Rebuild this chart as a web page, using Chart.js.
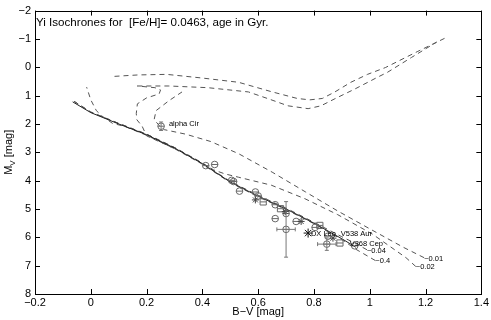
<!DOCTYPE html>
<html>
<head>
<meta charset="utf-8">
<script src="https://cdn.jsdelivr.net/npm/chart.js@4.4.0/dist/chart.umd.min.js"></script>
<style>
  body { margin: 0; background: #fff; }
  #wrap { width: 491px; height: 320px; }
</style>
</head>
<body>
<div id="wrap"><canvas id="myChart" width="491" height="320"></canvas></div>
<script>
// tick values
const xTicks = [-0.2, 0, 0.2, 0.4, 0.6, 0.8, 1, 1.2, 1.4];
const yTicks = [-2, -1, 0, 1, 2, 3, 4, 5, 6, 7, 8];

// main sequence (solid line)
const msX = [-0.065, 0.0, 0.1, 0.2, 0.3, 0.4, 0.5, 0.6, 0.7, 0.8, 0.9, 0.95];
const msY = [1.22, 1.6, 2.0, 2.38, 2.85, 3.4, 4.05, 4.55, 5.0, 5.5, 6.05, 6.35];

// isochrones (B-V, Mv)
const iso04X = [1.02, 0.95, 0.9, 0.8, 0.7, 0.6, 0.5, 0.4, 0.3, 0.2, 0.12, 0.078, 0.04, 0.02, 0.0, -0.015];
const iso04Y = [6.82, 6.42, 6.08, 5.52, 5.02, 4.57, 4.07, 3.42, 2.87, 2.4, 2.08, 1.98, 1.72, 1.53, 1.15, 0.70];
const iso004X = [0.99, 0.95, 0.9, 0.8, 0.7, 0.6, 0.5, 0.4, 0.3, 0.2, 0.1, 0.0, -0.06];
const iso004Y = [6.44, 6.22, 5.98, 5.47, 4.97, 4.52, 4.03, 3.38, 2.83, 2.36, 1.98, 1.58, 1.2];
const iso002X = [1.165, 1.13, 1.01, 0.885, 0.768, 0.647, 0.53, 0.48, 0.44, 0.4, 0.3, 0.2, 0.1, 0.0, -0.06];
const iso002Y = [7.03, 6.72, 5.89, 5.2, 4.64, 4.16, 3.88, 3.76, 3.62, 3.38, 2.83, 2.36, 1.98, 1.58, 1.2];
const iso001X = [1.195, 1.12, 1.0, 0.885, 0.77, 0.65, 0.53, 0.43, 0.34, 0.263, 0.245, 0.227, 0.234, 0.28, 0.327];
const iso001Y = [6.72, 6.35, 5.7, 5.07, 4.4, 3.7, 3.05, 2.62, 2.36, 2.2, 2.05, 1.85, 1.53, 1.18, 0.87];
const turnBX = [0.3, 0.2, 0.184, 0.165, 0.163, 0.167, 0.2, 0.245, 0.25, 0.23, 0.167];
const turnBY = [2.87, 2.42, 2.08, 1.85, 1.63, 1.29, 1.08, 0.94, 0.80, 0.72, 0.66];
const giantAX = [0.085, 0.17, 0.272, 0.4, 0.53, 0.647, 0.74, 0.785, 0.83, 0.875, 0.932, 0.992, 1.056, 1.17, 1.27];
const giantAY = [0.32, 0.27, 0.25, 0.38, 0.53, 0.86, 1.1, 1.15, 1.1, 0.87, 0.53, 0.25, 0.01, -0.55, -1.03];
const giantBX = [0.167, 0.28, 0.42, 0.565, 0.636, 0.707, 0.779, 0.825, 0.875, 0.946, 1.028, 1.063, 1.15, 1.24];
const giantBY = [0.66, 0.66, 0.72, 0.87, 1.11, 1.36, 1.46, 1.36, 1.11, 0.77, 0.35, 0.18, -0.35, -0.89];

// observed stars
const circX = [0.252, 0.412, 0.444, 0.505, 0.512, 0.533, 0.59, 0.60, 0.661, 0.661, 0.70, 0.70, 0.736, 0.804, 0.85, 0.846, 0.946];
const circY = [2.08, 3.47, 3.43, 3.99, 4.03, 4.37, 4.40, 4.54, 4.85, 5.34, 5.16, 5.72, 5.44, 5.65, 5.96, 6.24, 6.30];
const sqX = [0.618, 0.68, 0.821, 0.893];
const sqY = [4.75, 4.99, 5.58, 6.2];
const starX = [0.59, 0.697, 0.754, 0.868];
const starY = [4.68, 5.09, 5.44, 6.03];
const dxLeoX = [0.779];
const dxLeoY = [5.85];

// error bars
const errX = [0.252, 0.70, 0.846];
const errY = [2.08, 5.72, 6.24];
const errDx = [0, 0.033, 0.033];
const errDy = [0.15, 0.98, 0.22];

// labels
const isoNames = ['~0.04', '~0.4', '~0.01', '~0.02'];
const isoNameX = [0.99, 1.02, 1.195, 1.165];
const isoNameY = [6.47, 6.84, 6.75, 7.05];
const starNames = ['alpha Cir', 'DX Leo', 'V538 Aur', 'V368 Cep'];
const starNameX = [0.28, 0.789, 0.896, 0.928];
const starNameY = [2.0, 5.89, 5.89, 6.23];

const titleText = 'Yi Isochrones for  [Fe/H]= 0.0463, age in Gyr.';
const FONT = '"Liberation Sans", Arial, Helvetica, sans-serif';

function pts(xs, ys) {
  return xs.map((x, i) => ({ x: x, y: ys[i] }));
}

function dashed(xs, ys) {
  return {
    data: pts(xs, ys), showLine: true, borderColor: '#555', borderWidth: 1,
    borderDash: [5, 4], pointRadius: 0, fill: false
  };
}

function marks(xs, ys, style, r, color) {
  return {
    data: pts(xs, ys), showLine: false, pointStyle: style, pointRadius: r,
    borderColor: color, backgroundColor: 'rgba(0,0,0,0)', pointBorderWidth: 1
  };
}

function fmt(v) {
  return String(Math.round(v * 10) / 10).replace('-', '\u2212');
}

const frame = {
  id: 'frame',
  afterDatasetsDraw(chart) {
    const c = chart.ctx, a = chart.chartArea, sx = chart.scales.x, sy = chart.scales.y;
    c.save();

    // error bars
    c.strokeStyle = '#777';
    c.lineWidth = 1;
    for (let i = 0; i < errX.length; i++) {
      const px = sx.getPixelForValue(errX[i]), py = sy.getPixelForValue(errY[i]);
      c.beginPath();
      if (errDy[i] > 0) {
        const y1 = sy.getPixelForValue(errY[i] - errDy[i]), y2 = sy.getPixelForValue(errY[i] + errDy[i]);
        c.moveTo(px, y1); c.lineTo(px, y2);
        c.moveTo(px - 2, y1); c.lineTo(px + 2, y1);
        c.moveTo(px - 2, y2); c.lineTo(px + 2, y2);
      }
      if (errDx[i] > 0) {
        const x1 = sx.getPixelForValue(errX[i] - errDx[i]), x2 = sx.getPixelForValue(errX[i] + errDx[i]);
        c.moveTo(x1, py); c.lineTo(x2, py);
        c.moveTo(x1, py - 2); c.lineTo(x1, py + 2);
        c.moveTo(x2, py - 2); c.lineTo(x2, py + 2);
      }
      c.stroke();
    }

    // box and inward ticks
    c.strokeStyle = '#000';
    c.lineWidth = 1;
    c.strokeRect(Math.round(a.left) + 0.5, Math.round(a.top) + 0.5, Math.round(a.right - a.left), Math.round(a.bottom - a.top));
    c.beginPath();
    xTicks.forEach(v => {
      const px = Math.round(sx.getPixelForValue(v)) + 0.5;
      c.moveTo(px, a.bottom); c.lineTo(px, a.bottom - 5);
      c.moveTo(px, a.top); c.lineTo(px, a.top + 5);
    });
    yTicks.forEach(v => {
      const py = Math.round(sy.getPixelForValue(v)) + 0.5;
      c.moveTo(a.left, py); c.lineTo(a.left + 5, py);
      c.moveTo(a.right, py); c.lineTo(a.right - 5, py);
    });
    c.stroke();

    // title inside the plot
    c.fillStyle = '#000';
    c.font = '11.6px ' + FONT;
    c.textAlign = 'left';
    c.textBaseline = 'alphabetic';
    c.fillText(titleText, a.left + 1, a.top + 15);

    // isochrone + star labels
    c.font = '7.5px ' + FONT;
    c.textBaseline = 'middle';
    for (let i = 0; i < isoNames.length; i++) {
      c.fillText(isoNames[i], sx.getPixelForValue(isoNameX[i]), sy.getPixelForValue(isoNameY[i]));
    }
    for (let i = 0; i < starNames.length; i++) {
      c.fillText(starNames[i], sx.getPixelForValue(starNameX[i]), sy.getPixelForValue(starNameY[i]));
    }

    // axis titles
    c.font = '11px ' + FONT;
    c.textAlign = 'center';
    c.fillText('B\u2212V [mag]', (a.left + a.right) / 2, 312);

    c.translate(12, (a.top + a.bottom) / 2);
    c.rotate(-Math.PI / 2);
    c.textAlign = 'left';
    c.textBaseline = 'alphabetic';
    const wM = c.measureText('M').width;
    const wRest = c.measureText(' [mag]').width;
    c.font = '8px ' + FONT;
    const wV = c.measureText('V').width;
    const x0 = -(wM + wV + wRest) / 2;
    c.font = '11px ' + FONT;
    c.fillText('M', x0, 0);
    c.fillText(' [mag]', x0 + wM + wV, 0);
    c.font = '8px ' + FONT;
    c.fillText('V', x0 + wM, 3);
    c.restore();
  }
};

const ctx = document.getElementById('myChart');

new Chart(ctx, {
  type: 'scatter',
  data: {
    datasets: [
      marks(dxLeoX, dxLeoY, 'star', 4.5, '#111'),
      marks(starX, starY, 'star', 3.5, '#444'),
      marks(circX, circY, 'line', 3.3, '#666'),
      marks(circX, circY, 'circle', 3.3, '#666'),
      marks(sqX, sqY, 'line', 3.0, '#666'),
      marks(sqX, sqY, 'rect', 4.4, '#666'),
      { data: pts(msX, msY), showLine: true, borderColor: '#222', borderWidth: 1, pointRadius: 0, fill: false },
      dashed(iso04X, iso04Y),
      dashed(iso004X, iso004Y),
      dashed(iso002X, iso002Y),
      dashed(iso001X, iso001Y),
      dashed(turnBX, turnBY),
      dashed(giantAX, giantAY),
      dashed(giantBX, giantBY)
    ]
  },
  options: {
    responsive: false,
    animation: false,
    layout: { padding: { top: 5, right: 7, bottom: 0, left: 0 } },
    plugins: { legend: { display: false }, tooltip: { enabled: false } },
    scales: {
      x: {
        type: 'linear', min: -0.2, max: 1.4,
        afterBuildTicks: s => { s.ticks = xTicks.map(v => ({ value: v })); },
        afterFit: s => { s.height = 26; },
        grid: { display: false, drawTicks: false },
        border: { display: false },
        ticks: { callback: v => fmt(v), color: '#000', padding: 2, maxRotation: 0, font: { family: FONT, size: 11 } }
      },
      y: {
        type: 'linear', min: -2, max: 8, reverse: true,
        afterBuildTicks: s => { s.ticks = yTicks.map(v => ({ value: v })); },
        afterFit: s => { s.width = 35; },
        grid: { display: false, drawTicks: false },
        border: { display: false },
        ticks: { callback: v => fmt(v), color: '#000', padding: 4, font: { family: FONT, size: 11 } }
      }
    }
  },
  plugins: [frame]
});
</script>
</body>
</html>
